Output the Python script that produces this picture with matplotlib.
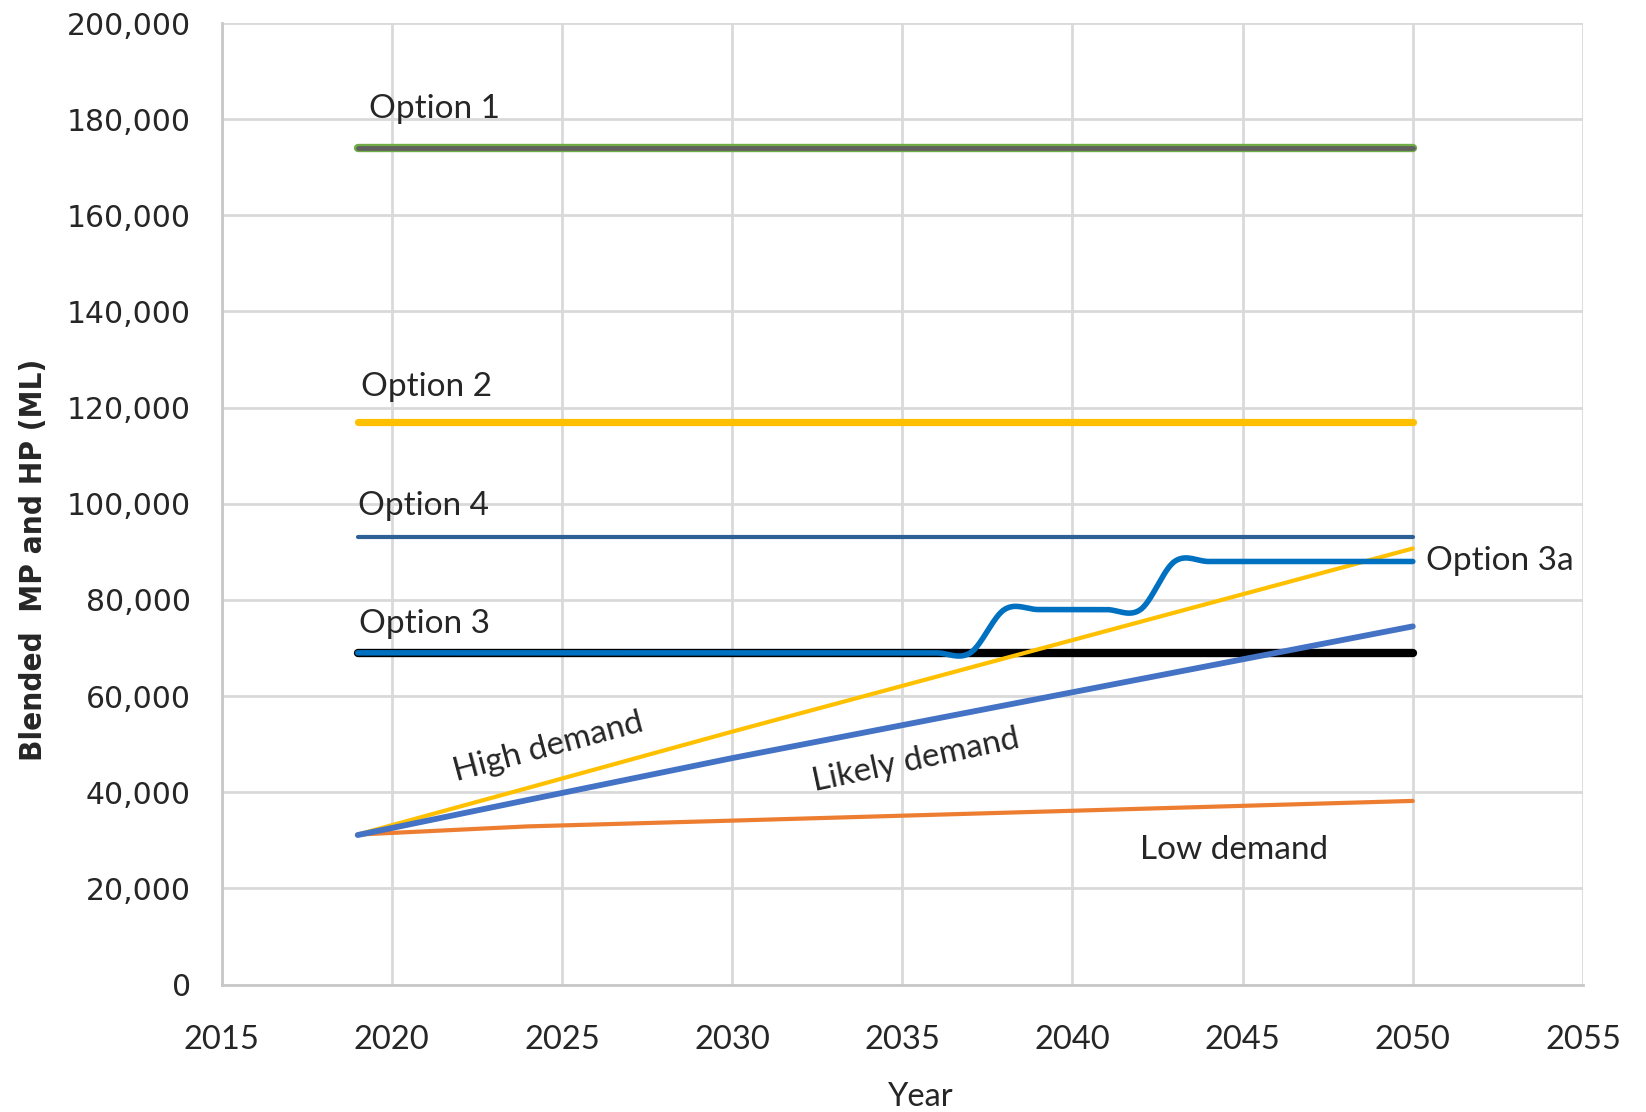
import numpy as np
import matplotlib
matplotlib.use("Agg")
import matplotlib.pyplot as plt
from matplotlib.ticker import FuncFormatter

# ---- data -------------------------------------------------------------
start_year = 2019
end_year = 2050

option_1 = 174000
option_2 = 117000
option_4 = 93000
option_3 = 69000

# Option 3a: yearly supply, stepped upgrades in 2038 and 2043
option_3a_years = list(range(2019, 2051))
option_3a_values = ([69000] * 19          # 2019-2037
                    + [78000] * 5         # 2038-2042
                    + [88000] * 8)        # 2043-2050

demand_years = [2019, 2024, 2030, 2050]
high_demand = [31200, 40900, 52600, 90700]
likely_demand = [31100, 38400, 47100, 74500]
low_demand = [31200, 32900, 34100, 38200]

x_ticks = [2015, 2020, 2025, 2030, 2035, 2040, 2045, 2050, 2055]
y_ticks = list(range(0, 200001, 20000))


def smooth_line(xs, ys, per_seg=30):
    """Catmull-Rom smoothing (the 'smoothed line' look of spreadsheet charts)."""
    xs = np.asarray(xs, float)
    ys = np.asarray(ys, float)
    n = len(xs)
    out_x, out_y = [], []
    for i in range(n - 1):
        p0 = ys[i - 1] if i > 0 else ys[i]
        p1, p2 = ys[i], ys[i + 1]
        p3 = ys[i + 2] if i + 2 < n else ys[i + 1]
        m1 = (p2 - p0) / 2.0 if i > 0 else 0.0
        m2 = (p3 - p1) / 2.0 if i + 2 < n else 0.0
        t = np.linspace(0, 1, per_seg, endpoint=(i == n - 2))
        h00 = 2 * t**3 - 3 * t**2 + 1
        h10 = t**3 - 2 * t**2 + t
        h01 = -2 * t**3 + 3 * t**2
        h11 = t**3 - t**2
        out_x.append(xs[i] + t * (xs[i + 1] - xs[i]))
        out_y.append(h00 * p1 + h10 * m1 + h01 * p2 + h11 * m2)
    return np.concatenate(out_x), np.concatenate(out_y)


# ---- figure -----------------------------------------------------------
label_font = ["Lato", "DejaVu Sans"]
text_color = "#262626"

fig = plt.figure(figsize=(16.46, 11.12), dpi=100)
ax = fig.add_axes([0.1346, 0.1146, 0.8271, 0.8647])

ax.set_xlim(2015, 2055)
ax.set_ylim(0, 200000)
ax.set_xticks(x_ticks)
ax.set_yticks(y_ticks)
ax.yaxis.set_major_formatter(FuncFormatter(lambda v, p: f"{int(v):,}"))

ax.grid(True, color="#d9d9d9", linewidth=2.0)
ax.set_axisbelow(True)
for side in ("top", "right"):
    ax.spines[side].set_visible(False)
for side in ("left", "bottom"):
    ax.spines[side].set_color("#c8c8c8")
    ax.spines[side].set_linewidth(2.0)

ax.tick_params(axis="both", length=0)
ax.tick_params(axis="x", pad=29, labelsize=23.5, labelcolor=text_color)
ax.tick_params(axis="y", pad=22, labelsize=21.5, labelcolor=text_color)
for lbl in ax.get_xticklabels():
    lbl.set_fontfamily(label_font)
for lbl in ax.get_yticklabels():
    lbl.set_fontfamily(["DejaVu Sans"])

span = [start_year, end_year]
cap = dict(solid_capstyle="round")

# Option 1: green-edged grey line
ax.plot(span, [option_1] * 2, color="#70ad47", linewidth=6.0, zorder=3, **cap)
ax.plot(span, [option_1] * 2, color="#606060", linewidth=3.4, zorder=3.1, **cap)

# Option 2
ax.plot(span, [option_2] * 2, color="#ffc000", linewidth=5.2, zorder=3, **cap)

# Option 4
ax.plot(span, [option_4] * 2, color="#2c6096", linewidth=3.0, zorder=3, **cap)

# Option 3 (base) in black
ax.plot(span, [option_3] * 2, color="#000000", linewidth=6.0, zorder=3, **cap)

# Demand scenarios
ax.plot(demand_years, low_demand, color="#ed7d31", linewidth=3.0, zorder=4, **cap)
ax.plot(demand_years, high_demand, color="#ffc000", linewidth=3.0, zorder=4, **cap)
ax.plot(demand_years, likely_demand, color="#4472c4", linewidth=4.2, zorder=4, **cap)

# Option 3a, smoothed
sx, sy = smooth_line(option_3a_years, option_3a_values)
ax.plot(sx, sy, color="#0070c0", linewidth=4.0, zorder=5, **cap)

# ---- annotations ------------------------------------------------------
ann = dict(fontsize=24, color=text_color, fontfamily=label_font)
ax.text(2019.34, 182100, "Option 1", va="center", ha="left", **ann)
ax.text(2019.10, 124200, "Option 2", va="center", ha="left", **ann)
ax.text(2019.00, 99500, "Option 4", va="center", ha="left", **ann)
ax.text(2019.04, 75100, "Option 3", va="center", ha="left", **ann)
ax.text(2050.40, 88000, "Option 3a", va="center", ha="left", clip_on=False, **ann)
ax.text(2024.6, 49300, "High demand", va="center", ha="center",
        rotation=15, rotation_mode="anchor", **ann)
ax.text(2035.4, 46700, "Likely demand", va="center", ha="center",
        rotation=12, rotation_mode="anchor", **ann)
ax.text(2044.76, 27900, "Low demand", va="center", ha="center", **ann)

fig.text(33.6 / 1646, 1 - 560 / 1112, "Blended  MP and HP (ML)", rotation=90,
         va="center", ha="center", fontsize=22.5, color=text_color,
         fontfamily=["DejaVu Sans"], fontstretch="condensed", fontweight="bold")
fig.text(921 / 1646, 1 - 1097 / 1112, "Year", va="center", ha="center",
         fontsize=23.5, color=text_color, fontfamily=label_font)

fig.savefig("out.png", dpi=100, facecolor="white")
